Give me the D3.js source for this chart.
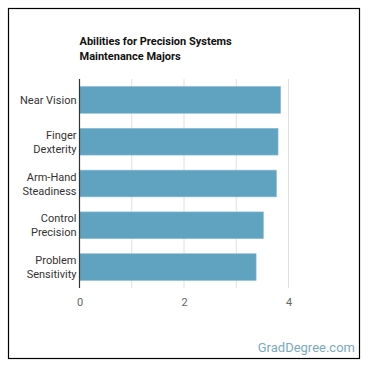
<!DOCTYPE html>
<html>
<head>
<meta charset="utf-8">
<script src="https://cdn.jsdelivr.net/npm/d3@7"></script>
<style>
  body { margin: 0; background: #fff; }
  svg { display: block; font-family: Roboto, sans-serif; }
</style>
</head>
<body>
<svg id="chart" width="370" height="370"></svg>
<script>
// values
const abilities = [["Near", "Vision"], ["Finger", "Dexterity"], ["Arm-Hand", "Steadiness"], ["Control", "Precision"], ["Problem", "Sensitivity"]];
const abilityKeys = ["Near Vision", "Finger Dexterity", "Arm-Hand Steadiness", "Control Precision", "Problem Sensitivity"];
const scores = [3.85, 3.8, 3.77, 3.52, 3.38];
const tickValues = [0, 2, 4];
const gridValues = [0, 1, 2, 3, 4];
const titleLines = ["Abilities for Precision Systems", "Maintenance Majors"];

const svg = d3.select("#chart");
const plot = {left: 79.5, right: 288.5, top: 79, bottom: 288};

// outer frame
svg.append("rect")
    .attr("x", 8.5).attr("y", 8.5)
    .attr("width", 351).attr("height", 350)
    .attr("fill", "#fff")
    .attr("stroke", "#000")
    .attr("stroke-width", 1.2);

const x = d3.scaleLinear().domain([0, 4]).range([plot.left, plot.right]);
const y = d3.scaleBand().domain(abilityKeys).range([plot.top, plot.bottom])
    .paddingInner(0.36).paddingOuter(0.18);

// title
svg.append("text")
    .attr("x", plot.left).attr("y", 45)
    .attr("font-size", "11px").attr("font-weight", "bold").attr("fill", "#111")
    .selectAll("tspan").data(titleLines).join("tspan")
    .attr("x", plot.left)
    .attr("dy", (d, i) => i ? 14.5 : 0)
    .text(d => d);

// grid
svg.append("g").selectAll("line").data(gridValues.slice(1)).join("line")
    .attr("x1", d => x(d)).attr("x2", d => x(d))
    .attr("y1", plot.top).attr("y2", plot.bottom)
    .attr("stroke", "#e0e0e0").attr("stroke-width", 1);

// bars
svg.append("g").selectAll("rect").data(scores).join("rect")
    .attr("x", x(0))
    .attr("y", (d, i) => y(abilityKeys[i]))
    .attr("width", d => x(d) - x(0))
    .attr("height", y.bandwidth())
    .attr("fill", "#5fa3c0")
    .attr("stroke", "#8cbdd2")
    .attr("stroke-width", 0.6);

// zero axis line
svg.append("line")
    .attr("x1", x(0)).attr("x2", x(0))
    .attr("y1", plot.top).attr("y2", plot.bottom)
    .attr("stroke", "#333").attr("stroke-width", 1.2);

// category labels
const labels = svg.append("g").selectAll("text").data(abilities).join("text")
    .attr("text-anchor", "end")
    .attr("font-size", "11px")
    .attr("fill", "#333")
    .attr("y", (d, i) => y(abilityKeys[i]) + y.bandwidth() / 2);
labels.each(function(d) {
    const t = d3.select(this);
    const cy = +t.attr("y");
    if (d[0] === "Near") {
        t.append("tspan").attr("x", plot.left - 3).attr("y", cy + 4).text(d.join(" "));
    } else {
        t.append("tspan").attr("x", plot.left - 3).attr("y", cy - 3).text(d[0]);
        t.append("tspan").attr("x", plot.left - 3).attr("y", cy + 11).text(d[1]);
    }
});

// x tick labels
const xAxis = d3.axisBottom(x).tickValues(tickValues).tickFormat(d3.format("d"))
    .tickSize(0).tickPadding(10);
svg.append("g")
    .attr("transform", `translate(0,${plot.bottom})`)
    .call(xAxis)
    .call(g => g.select(".domain").remove())
    .call(g => g.selectAll("text").attr("font-size", "11px").attr("fill", "#666").attr("font-family", "Roboto, sans-serif"));

// watermark
svg.append("text")
    .attr("x", 355).attr("y", 352)
    .attr("text-anchor", "end")
    .attr("font-size", "13px")
    .attr("fill", "#7aaac2")
    .text("GradDegree.com");
</script>
</body>
</html>
